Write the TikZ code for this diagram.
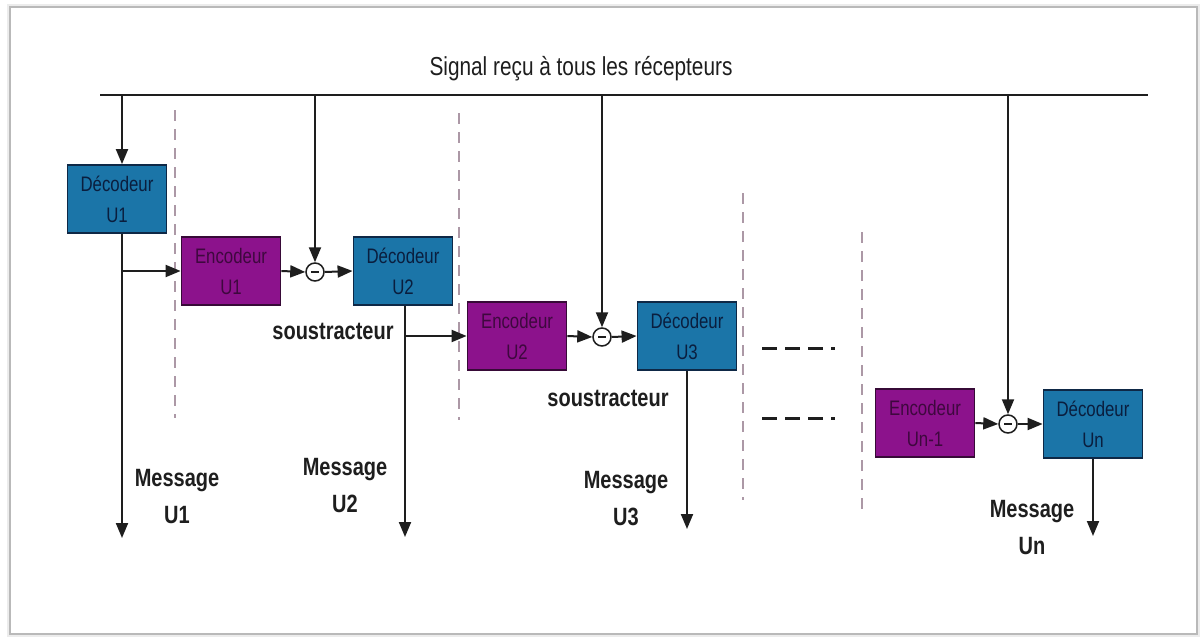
\documentclass[tikz,border=0pt]{standalone}
\usepackage{fontspec}
\setmainfont{Liberation Sans}[FakeStretch=0.8]
\usetikzlibrary{arrows.meta}

\definecolor{decblue}{RGB}{27,117,168}
\definecolor{decline}{RGB}{14,40,70}
\definecolor{dectext}{RGB}{10,30,62}
\definecolor{encpurple}{RGB}{140,18,140}
\definecolor{encline}{RGB}{55,10,55}
\definecolor{enctext}{RGB}{62,8,62}
\definecolor{wirec}{RGB}{30,30,30}
\definecolor{sepc}{RGB}{172,152,166}
\definecolor{labelc}{RGB}{30,30,30}

\begin{document}
\begin{tikzpicture}[x=1pt,y=-1pt,
  dec/.style={draw=decline, line width=1.8pt, fill=decblue, text=dectext,
    minimum width=99pt, minimum height=68pt, inner sep=0pt, align=center,
    font=\fontsize{21}{31}\selectfont},
  enc/.style={dec, draw=encline, fill=encpurple, text=enctext},
  wire/.style={line width=2pt, draw=wirec},
  arr/.style={wire, -{Triangle[length=15pt,width=12pt]}},
  sub/.style={circle, draw=wirec, line width=1.5pt, fill=white,
    minimum size=18pt, inner sep=0pt,
    path picture={\draw[line width=1.4pt, wirec]
      ([xshift=-4pt]path picture bounding box.center) --
      ([xshift=4pt]path picture bounding box.center);}},
  sep/.style={line width=1.5pt, draw=sepc, dash pattern=on 11pt off 8pt},
  etc/.style={line width=3pt, draw=wirec, dash pattern=on 15pt off 8pt},
  lbl/.style={font=\fontsize{26}{37}\selectfont, align=center, text=labelc},
  tag/.style={lbl, font=\bfseries\fontsize{25}{37}\selectfont}]

% page and frame
\fill[white] (0,0) rectangle (1202,637);
\useasboundingbox (0,0) rectangle (1202,637);
\draw[gray!15, line width=4pt] (9,6) rectangle (1198,635);
\draw[gray!55, line width=1.2pt] (10,7) rectangle (1197,634);

% title and common signal bus
\node[lbl] (title) at (581,69) {Signal reçu à tous les récepteurs};
\coordinate (busL) at (100,95);
\coordinate (busR) at (1148,95);
\draw[wire] (busL) -- (busR);

% user separators
\draw[sep] (175,110) -- (175,418);
\draw[sep] (459,113) -- (459,420);
\draw[sep] (743,193) -- (743,500);
\draw[sep] (862,232) -- (862,512);

% blocks
\node[dec] (d1) at (117,199) {Décodeur\\U1};
\node[enc] (e1) at (231,271) {Encodeur\\U1};
\node[sub] (s1) at (315,272) {};
\node[dec] (d2) at (403,271) {Décodeur\\U2};
\node[enc] (e2) at (517,336) {Encodeur\\U2};
\node[sub] (s2) at (602,337) {};
\node[dec] (d3) at (687,336) {Décodeur\\U3};
\node[enc] (en) at (925,423) {Encodeur\\Un-1};
\node[sub] (sn) at (1008,424) {};
\node[dec] (dn) at (1093,424) {Décodeur\\Un};

% taps on the bus
\coordinate (j1) at (122,95);
\coordinate (j2) at (315,95);
\coordinate (j3) at (602,95);
\coordinate (j4) at (1008,95);
\draw[arr] (j1) -- (j1 |- d1.north);
\draw[arr] (j2) -- (s1.north);
\draw[arr] (j3) -- (s2.north);
\draw[arr] (j4) -- (sn.north);

% stage 1
\coordinate (m1) at (122,538);
\coordinate (b1) at (122,271);
\draw[arr] (d1.south -| m1) -- (m1);
\draw[arr] (b1) -- (e1.west);
\draw[arr] (e1.east) -- (s1.west);
\draw[arr] (s1.east) -- (d2.west);

% stage 2
\coordinate (m2) at (405,537);
\coordinate (b2) at (405,336);
\draw[arr] (d2.south -| m2) -- (m2);
\draw[arr] (b2) -- (e2.west);
\draw[arr] (e2.east) -- (s2.west);
\draw[arr] (s2.east) -- (d3.west);

% stage 3
\coordinate (m3) at (687,529);
\draw[arr] (d3.south -| m3) -- (m3);

% continuation marks
\coordinate (g1a) at (762,348); \coordinate (g1b) at (835,348);
\coordinate (g2a) at (762,418); \coordinate (g2b) at (835,418);
\draw[etc] (g1a) -- (g1b);
\draw[etc] (g2a) -- (g2b);

% last stage
\coordinate (mn) at (1093,536);
\draw[arr] (en.east) -- (sn.west);
\draw[arr] (sn.east) -- (dn.west);
\draw[arr] (dn.south -| mn) -- (mn);

% labels
\node[tag] (sl1) at (333,331) {soustracteur};
\node[tag] (sl2) at (608,398) {soustracteur};
\node[tag] (ml1) at (177,497) {Message\\U1};
\node[tag] (ml2) at (345,486) {Message\\U2};
\node[tag] (ml3) at (626,499) {Message\\U3};
\node[tag] (mln) at (1032,528) {Message\\Un};
\end{tikzpicture}
\end{document}
